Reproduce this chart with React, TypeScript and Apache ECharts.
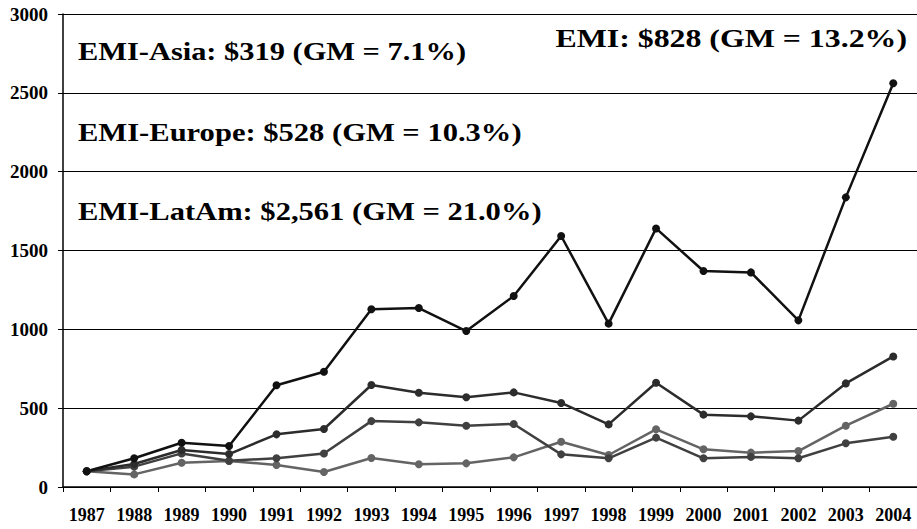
import React, { useEffect, useRef } from "react";
import * as echarts from "echarts";

const years = ["1987","1988","1989","1990","1991","1992","1993","1994","1995","1996","1997","1998","1999","2000","2001","2002","2003","2004"];
const latam = [100, 182, 281, 260, 645, 731, 1127, 1135, 989, 1211, 1592, 1036, 1640, 1370, 1361, 1057, 1837, 2561];
const emi = [100, 146, 235, 209, 334, 368, 647, 598, 569, 600, 533, 397, 661, 459, 448, 421, 657, 828];
const asia = [100, 129, 213, 167, 182, 213, 418, 410, 389, 400, 207, 182, 313, 182, 191, 182, 277, 319];
const europe = [100, 80, 154, 165, 140, 95, 184, 144, 150, 188, 287, 203, 366, 239, 218, 228, 389, 528];
const yTicks = [0, 500, 1000, 1500, 2000, 2500, 3000];

const labels = [
  { text: "EMI-Asia: $319 (GM = 7.1%)", x: 78, y: 51, align: "left", sx: 1.17 },
  { text: "EMI-Europe: $528 (GM = 10.3%)", x: 78, y: 132, align: "left", sx: 1.175 },
  { text: "EMI-LatAm: $2,561 (GM = 21.0%)", x: 78, y: 211, align: "left", sx: 1.175 },
  { text: "EMI: $828 (GM = 13.2%)", x: 907, y: 38.5, align: "right", sx: 1.225 },
];

const FONT = "Liberation Serif";

export default function App() {
  const ref = useRef<HTMLDivElement>(null);
  useEffect(() => {
    if (!ref.current) return;
    const chart = echarts.init(ref.current, null, { renderer: "svg" });
    const mk = (name: string, data: number[], color: string) => ({
      name,
      type: "line",
      data,
      symbol: "circle",
      symbolSize: 8,
      lineStyle: { color, width: 2.5 },
      itemStyle: { color },
      z: 3,
    });
    chart.setOption({
      animation: false,
      backgroundColor: "#ffffff",
      grid: { left: 63, right: -1, top: 14, bottom: 42 },
      xAxis: {
        type: "category",
        data: years,
        boundaryGap: true,
        axisLine: { lineStyle: { color: "#000", width: 1.5 } },
        axisTick: { show: true, length: 5, lineStyle: { color: "#000" } },
        axisLabel: { color: "#000", fontFamily: FONT, fontWeight: "bold", fontSize: 18, margin: 19, interval: 0 },
      },
      yAxis: {
        type: "value",
        min: yTicks[0],
        max: yTicks[yTicks.length - 1],
        interval: 500,
        axisLine: { show: true, lineStyle: { color: "#000", width: 1.5 } },
        axisTick: { show: true, length: 5, lineStyle: { color: "#000" } },
        axisLabel: {
          color: "#000",
          fontFamily: FONT,
          fontWeight: "bold",
          fontSize: 19,
          margin: 15,
          formatter: (v: number) => String(v),
        },
        splitLine: { show: true, lineStyle: { color: "#000", width: 1 } },
      },
      series: [
        mk("EMI-Europe", europe, "#646464"),
        mk("EMI-Asia", asia, "#404040"),
        mk("EMI", emi, "#2c2c2c"),
        mk("EMI-LatAm", latam, "#111111"),
      ],
      graphic: labels.map((l) => ({
        type: "text",
        x: l.x,
        y: l.y,
        scaleX: l.sx,
        style: {
          text: l.text,
          fill: "#000",
          fontFamily: FONT,
          fontWeight: "bold",
          fontSize: 26,
          textAlign: l.align,
          textVerticalAlign: "middle",
        },
        z: 10,
      })),
    });
    return () => chart.dispose();
  }, []);
  return <div ref={ref} style={{ position: "fixed", left: 0, top: 0, width: 917, height: 529 }} />;
}
